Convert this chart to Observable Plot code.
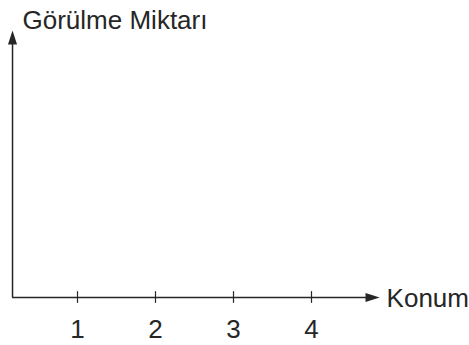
<!DOCTYPE html>
<html>
<head>
<meta charset="utf-8">
<script src="https://cdn.jsdelivr.net/npm/d3@7"></script>
<script src="https://cdn.jsdelivr.net/npm/@observablehq/plot@0.6"></script>
<style>
  html, body { margin: 0; padding: 0; background: #fff; }
  svg { display: block; }
</style>
</head>
<body>
<div id="chart"></div>
<script>
// Data
const positions = [1, 2, 3, 4];
const tickLabels = ["1", "2", "3", "4"];
const xAxisTitle = "Konum";
const yAxisTitle = "Görülme Miktarı";
const axisOrigin = {x: 0.167, y: 0};
const axisEnd = {x: 4.86, y: 1};

const ink = "#262626";

// narrow filled triangle pointing up
const narrowTriangle = {
  draw(context, size) {
    const h = Math.sqrt(size) * 1.6;
    const w = h * 0.32;
    context.moveTo(0, -h / 2);
    context.lineTo(w, h / 2);
    context.lineTo(-w, h / 2);
    context.closePath();
  }
};

const ticks = positions.map((p, i) => ({x: p, label: tickLabels[i]}));

const chart = Plot.plot({
  width: 469,
  height: 345,
  margin: 0,
  x: {domain: [0, 5], range: [-1, 389], axis: null},
  y: {domain: [0, 1], range: [297, 31], axis: null},
  style: {fontFamily: "'Liberation Sans', Arial, sans-serif", background: "#fff"},
  marks: [
    // y axis line
    Plot.ruleX([axisOrigin], {x: "x", y1: axisOrigin.y, y2: axisEnd.y - 0.02, stroke: ink, strokeWidth: 1.5}),
    // x axis line
    Plot.ruleY([axisOrigin], {y: "y", x1: axisOrigin.x, x2: axisEnd.x - 0.08, stroke: ink, strokeWidth: 1.5}),
    // arrow heads
    Plot.dot([{x: axisOrigin.x, y: axisEnd.y}], {x: "x", y: "y", symbol: narrowTriangle, r: 5, fill: ink, stroke: "none", dy: 6}),
    Plot.dot([{x: axisEnd.x, y: axisOrigin.y}], {x: "x", y: "y", symbol: narrowTriangle, r: 5, fill: ink, stroke: "none", rotate: 90, dx: -6}),
    // ticks
    Plot.ruleX(ticks, {x: "x", y1: -0.022, y2: 0.022, stroke: ink, strokeWidth: 1.2}),
    // tick labels
    Plot.text(ticks, {x: "x", y: 0, text: "label", dy: 32, fontSize: 26, fill: ink}),
    // axis titles
    Plot.text([{x: axisEnd.x, y: axisOrigin.y}], {x: "x", y: "y", text: () => xAxisTitle, textAnchor: "start", dx: 8, dy: 1, fontSize: 26, fill: ink}),
    Plot.text([{x: axisOrigin.x, y: axisEnd.y}], {x: "x", y: "y", text: () => yAxisTitle, textAnchor: "start", dx: 10, dy: -11, fontSize: 26, fill: ink})
  ]
});
document.getElementById("chart").appendChild(chart);
</script>
</body>
</html>
